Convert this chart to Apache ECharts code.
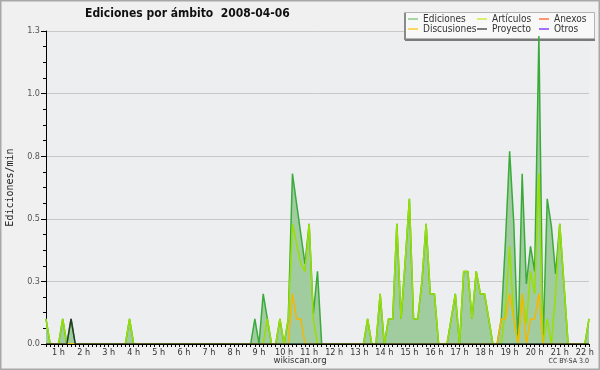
<!DOCTYPE html>
<html>
<head>
<meta charset="utf-8">
<script src="https://cdn.jsdelivr.net/npm/echarts@6/dist/echarts.min.js"></script>
<style>
html,body{margin:0;padding:0;background:#f0f0f0;}
#chart{width:600px;height:370px;}
</style>
</head>
<body>
<div id="chart"></div>
<script>
// 10-minute time slots (x categories)
const times = [
 "00:30","00:40","00:50",
 "01:00","01:10","01:20","01:30","01:40","01:50",
 "02:00","02:10","02:20","02:30","02:40","02:50",
 "03:00","03:10","03:20","03:30","03:40","03:50",
 "04:00","04:10","04:20","04:30","04:40","04:50",
 "05:00","05:10","05:20","05:30","05:40","05:50",
 "06:00","06:10","06:20","06:30","06:40","06:50",
 "07:00","07:10","07:20","07:30","07:40","07:50",
 "08:00","08:10","08:20","08:30","08:40","08:50",
 "09:00","09:10","09:20","09:30","09:40","09:50",
 "10:00","10:10","10:20","10:30","10:40","10:50",
 "11:00","11:10","11:20","11:30","11:40","11:50",
 "12:00","12:10","12:20","12:30","12:40","12:50",
 "13:00","13:10","13:20","13:30","13:40","13:50",
 "14:00","14:10","14:20","14:30","14:40","14:50",
 "15:00","15:10","15:20","15:30","15:40","15:50",
 "16:00","16:10","16:20","16:30","16:40","16:50",
 "17:00","17:10","17:20","17:30","17:40","17:50",
 "18:00","18:10","18:20","18:30","18:40","18:50",
 "19:00","19:10","19:20","19:30","19:40","19:50",
 "20:00","20:10","20:20","20:30","20:40","20:50",
 "21:00","21:10","21:20","21:30","21:40","21:50",
 "22:00","22:10"
];

// Ediciones/min per slot
const ediciones = [
 0.1,0,0,
 0,0.1,0,0.1,0,0,
 0,0,0,0,0,0,
 0,0,0,0,0,0.1,
 0,0,0,0,0,0,
 0,0,0,0,0,0,
 0,0,0,0,0,0,
 0,0,0,0,0,0,
 0,0,0,0,0,0.1,
 0,0.2,0.1,0,0,0.1,
 0,0.1,0.68,0.56,0.44,0.32,
 0.48,0.12,0.29,0,0,0,
 0,0,0,0,0,0,
 0,0,0.1,0,0,0.2,
 0,0.1,0.1,0.48,0.1,0.33,
 0.58,0.1,0.1,0.25,0.48,0.2,
 0.2,0,0,0,0.1,0.2,
 0,0.29,0.29,0.1,0.29,0.2,
 0.2,0.1,0,0,0.1,0.41,
 0.77,0.48,0,0.68,0.24,0.39,
 0.29,1.23,0,0.58,0.47,0.28,
 0.48,0.24,0,0,0,0,
 0,0.1
];

const articulos = [
 0.1,0,0,
 0,0.1,0,0,0,0,
 0,0,0,0,0,0,
 0,0,0,0,0,0.1,
 0,0,0,0,0,0,
 0,0,0,0,0,0,
 0,0,0,0,0,0,
 0,0,0,0,0,0,
 0,0,0,0,0,0,
 0,0,0.1,0,0,0.1,
 0,0.1,0.48,0.4,0.32,0.29,
 0.48,0.1,0,0,0,0,
 0,0,0,0,0,0,
 0,0,0.1,0,0,0.2,
 0,0.1,0.1,0.48,0.1,0.33,
 0.58,0.1,0.1,0.25,0.48,0.2,
 0.2,0,0,0,0.1,0.2,
 0,0.29,0.29,0.1,0.29,0.2,
 0.2,0.1,0,0,0,0.14,
 0.39,0.1,0,0.2,0.08,0.29,
 0.2,0.68,0,0.1,0,0.2,
 0.48,0.24,0,0,0,0,
 0,0.1
];

const discusiones = [
 0,0,0,
 0,0,0,0,0,0,
 0,0,0,0,0,0,
 0,0,0,0,0,0,
 0,0,0,0,0,0,
 0,0,0,0,0,0,
 0,0,0,0,0,0,
 0,0,0,0,0,0,
 0,0,0,0,0,0,
 0,0,0,0,0,0,
 0,0,0.2,0.1,0.1,0,
 0,0,0,0,0,0,
 0,0,0,0,0,0,
 0,0,0,0,0,0,
 0,0,0,0,0,0,
 0,0,0,0,0,0,
 0,0,0,0,0,0,
 0,0,0,0,0,0,
 0,0,0,0,0.1,0.1,
 0.2,0.1,0,0.2,0,0.1,
 0.1,0.2,0,0,0,0,
 0,0,0,0,0,0,
 0,0
];

const proyecto = [
 0,0,0,
 0,0,0,0.1,0,0,
 0,0,0,0,0,0,
 0,0,0,0,0,0,
 0,0,0,0,0,0,
 0,0,0,0,0,0,
 0,0,0,0,0,0,
 0,0,0,0,0,0,
 0,0,0,0,0,0,
 0,0,0,0,0,0,
 0,0,0,0,0,0,
 0,0,0,0,0,0,
 0,0,0,0,0,0,
 0,0,0,0,0,0,
 0,0,0,0,0,0,
 0,0,0,0,0,0,
 0,0,0,0,0,0,
 0,0,0,0,0,0,
 0,0,0,0,0,0,
 0,0,0,0,0,0,
 0,0,0,0,0,0,
 0,0,0,0,0,0,
 0,0
];

const anexos = [];
const otros = [];

const yTicks = [0, 0.25, 0.5, 0.75, 1.0, 1.25];

const FONT = '"DejaVu Sans Condensed", "DejaVu Sans", sans-serif';
const chart = echarts.init(document.getElementById('chart'), null, {renderer: 'canvas'});
const legendFont = {fontFamily: FONT, fontSize: 10, color: '#333', lineHeight: 10};
function legendBlock(left, items) {
  return {
    left: left, top: 14, orient: 'vertical', padding: 0, itemGap: 0,
    itemWidth: 10, itemHeight: 1.5, icon: 'rect', selectedMode: false,
    textStyle: legendFont, data: items
  };
}
chart.setOption({
  animation: false,
  backgroundColor: '#f0f0f0',
  title: {
    text: 'Ediciones por ámbito  2008-04-06',
    left: 80, top: 3,
    textStyle: {fontFamily: FONT, fontWeight: 'bold', fontSize: 12, color: '#111'}
  },
  legend: [
    legendBlock(408, [{name: 'Ediciones', itemStyle: {color: '#88cc88'}}, {name: 'Discusiones', itemStyle: {color: '#ffcc33'}}]),
    legendBlock(477, [{name: 'Artículos', itemStyle: {color: '#ccee44'}}, {name: 'Proyecto', itemStyle: {color: '#555555'}}]),
    legendBlock(539, [{name: 'Anexos', itemStyle: {color: '#ff7744'}}, {name: 'Otros', itemStyle: {color: '#8844ff'}}])
  ],
  grid: {left: 46, right: 11, top: 31, bottom: 26, show: true, backgroundColor: '#eceef0', borderWidth: 0,
         containLabel: false, outerBoundsMode: 'none'},
  xAxis: {
    type: 'category', data: times, boundaryGap: false, z: 5,
    axisLine: {lineStyle: {color: '#000', width: 1}},
    axisTick: {interval: 0, length: 3, lineStyle: {color: '#000'}},
    axisLabel: {
      interval: (i, v) => v.endsWith(':00'),
      formatter: v => parseInt(v, 10) + ' h',
      fontFamily: FONT, fontSize: 9, color: '#333', margin: 4
    },
    splitLine: {show: false}
  },
  yAxis: {
    type: 'value', min: 0, max: 1.25, interval: 0.25,
    name: 'Ediciones/min', nameLocation: 'middle', nameGap: 31, nameRotate: 90,
    nameTextStyle: {fontFamily: 'DejaVu Sans Mono', fontSize: 10, color: '#222'},
    axisLine: {show: true, lineStyle: {color: '#000'}},
    axisTick: {show: true, length: 5, lineStyle: {color: '#000'}},
    minorTick: {show: true, splitNumber: 4, length: 3, lineStyle: {color: '#000'}},
    axisLabel: {
      formatter: v => v.toFixed(1), fontFamily: FONT, fontSize: 9, color: '#555', margin: 6,
      customValues: yTicks
    },
    splitLine: {show: true, lineStyle: {color: '#c8c8c8', width: 1}}
  },
  series: [
    {name: 'Ediciones', type: 'line', data: ediciones, showSymbol: false, color: '#88cc88',
     lineStyle: {color: '#3aab3a', width: 1.5}, areaStyle: {color: '#a0cca0', opacity: 1}},
    {name: 'Artículos', type: 'line', data: articulos, showSymbol: false, color: '#ccee44',
     lineStyle: {color: '#99e000', width: 1.5}},
    {name: 'Anexos', type: 'line', data: anexos, showSymbol: false, color: '#ff7744',
     lineStyle: {color: '#ff7744', width: 1.5}},
    {name: 'Discusiones', type: 'line', data: discusiones, showSymbol: false, color: '#ffcc33',
     lineStyle: {color: '#f5b800', width: 1.5}},
    {name: 'Proyecto', type: 'line', data: proyecto, showSymbol: false, color: '#555555',
     lineStyle: {color: '#2a3a2a', width: 1.5}},
    {name: 'Otros', type: 'line', data: otros, showSymbol: false, color: '#8844ff',
     lineStyle: {color: '#8844ff', width: 1.5}}
  ],
  graphic: [
    {type: 'rect', z: 3, shape: {x: 405, y: 37, width: 190, height: 4}, style: {fill: '#7a7a7a'}},
    {type: 'rect', z: 3, shape: {x: 404.5, y: 12.5, width: 190, height: 26}, style: {fill: '#f8f8f8', stroke: '#b4b4b4', lineWidth: 1}},
    {type: 'rect', z: 3, shape: {x: 404, y: 13, width: 2, height: 27}, style: {fill: '#8a8a8a'}},
    {type: 'text', z: 5, x: 300, y: 356, style: {text: 'wikiscan.org', textAlign: 'center', fontFamily: FONT, fontSize: 9.5, fill: '#333'}},
    {type: 'text', z: 5, x: 589, y: 358, style: {text: 'CC BY-SA 3.0', textAlign: 'right', fontFamily: FONT, fontSize: 7, fill: '#333'}},
    {type: 'rect', z: 10, shape: {x: 0.5, y: 0.5, width: 599, height: 369}, style: {fill: null, stroke: '#a8a8a8', lineWidth: 2}}
  ]
});
</script>
</body>
</html>
